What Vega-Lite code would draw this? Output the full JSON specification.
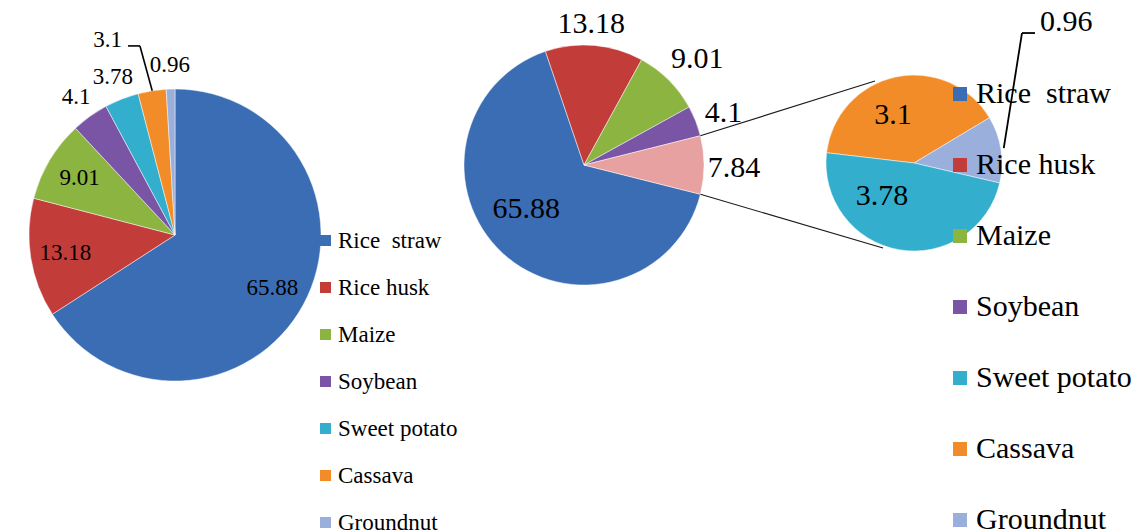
{
  "$schema": "https://vega.github.io/schema/vega-lite/v6.json",
  "padding": 0,
  "spacing": 0,
  "bounds": "flush",
  "background": "white",
  "config": {"view": {"stroke": null}, "font": "'Liberation Serif', 'Times New Roman', 'DejaVu Serif', serif"},
  "datasets": {
    "full": [
      {"name": "Rice straw", "value": 65.88, "k": 1},
      {"name": "Rice husk", "value": 13.18, "k": 2},
      {"name": "Maize", "value": 9.01, "k": 3},
      {"name": "Soybean", "value": 4.1, "k": 4},
      {"name": "Sweet potato", "value": 3.78, "k": 5},
      {"name": "Cassava", "value": 3.1, "k": 6},
      {"name": "Groundnut", "value": 0.96, "k": 7}
    ],
    "main": [
      {"name": "Rice straw", "value": 65.88, "k": 1},
      {"name": "Rice husk", "value": 13.18, "k": 2},
      {"name": "Maize", "value": 9.01, "k": 3},
      {"name": "Soybean", "value": 4.1, "k": 4},
      {"name": "Other", "value": 7.84, "k": 5}
    ],
    "sub": [
      {"name": "Cassava", "value": 3.1, "k": 1},
      {"name": "Groundnut", "value": 0.96, "k": 2},
      {"name": "Sweet potato", "value": 3.78, "k": 3}
    ]
  },
  "resolve": {
    "scale": {"color": "independent", "theta": "independent", "x": "independent", "y": "independent"},
    "legend": {"color": "independent"}
  },
  "hconcat": [
    {
      "width": 350,
      "height": 468,
      "data": {"name": "full"},
      "layer": [
        {
          "mark": {"type": "arc", "radius": 146, "stroke": "#ffffff", "strokeWidth": 0.8, "strokeOpacity": 0.6},
          "encoding": {
            "theta": {"field": "value", "type": "quantitative", "stack": true},
            "order": {"field": "k", "type": "quantitative"},
            "color": {
              "field": "name", "type": "nominal",
              "scale": {
                "domain": ["Rice straw", "Rice husk", "Maize", "Soybean", "Sweet potato", "Cassava", "Groundnut"],
                "range": ["#3B6DB4", "#C23D3A", "#8BB440", "#7B55A5", "#33AECC", "#F28C28", "#9AAFDB"]
              },
              "legend": {
                "title": null, "orient": "none", "legendX": 314, "legendY": 228,
                "symbolType": "square", "symbolSize": 121, "symbolStrokeWidth": 0,
                "labelFont": "'Liberation Serif', 'Times New Roman', 'DejaVu Serif', serif", "labelFontSize": 23, "labelColor": "#000000",
                "labelOffset": 1, "rowPadding": 23, "padding": 0, "labelLimit": 300,
                "labelExpr": "datum.label == 'Rice straw' ? 'Rice\u00a0\u00a0straw' : datum.label"
              }
            }
          }
        },
        {
          "mark": {"type": "text", "radius": 111, "fontSize": 23, "color": "#000000"},
          "encoding": {
            "theta": {"field": "value", "type": "quantitative", "stack": true},
            "order": {"field": "k", "type": "quantitative"},
            "text": {"condition": {"test": "datum.k <= 3", "field": "value", "type": "nominal"}, "value": ""}
          }
        },
        {
          "mark": {"type": "text", "radius": 170, "fontSize": 23, "color": "#000000"},
          "encoding": {
            "theta": {"field": "value", "type": "quantitative", "stack": true},
            "order": {"field": "k", "type": "quantitative"},
            "text": {"condition": {"test": "datum.k == 4 || datum.k == 5 || datum.k == 7", "field": "value", "type": "nominal"}, "value": ""}
          }
        },
        {
          "transform": [{"filter": "datum.name == 'Cassava'"}],
          "mark": {"type": "text", "align": "right", "baseline": "middle", "fontSize": 23, "color": "#000000"},
          "encoding": {
            "x": {"datum": -0.363, "type": "quantitative", "scale": {"domain": [-1.1986, 1.1986], "nice": false, "zero": false}, "axis": null},
            "y": {"datum": 1.336, "type": "quantitative", "scale": {"domain": [-1.6027, 1.6027], "nice": false, "zero": false}, "axis": null},
            "text": {"field": "value", "type": "nominal"}
          }
        },
        {
          "data": {"values": [{}]},
          "mark": {"type": "rule", "color": "#000000", "strokeWidth": 1.6},
          "encoding": {
            "x": {"datum": -0.156, "type": "quantitative"},
            "y": {"datum": 0.988, "type": "quantitative"},
            "x2": {"datum": -0.240},
            "y2": {"datum": 1.295}
          }
        },
        {
          "data": {"values": [{}]},
          "mark": {"type": "rule", "color": "#000000", "strokeWidth": 1.6},
          "encoding": {
            "x": {"datum": -0.240, "type": "quantitative"},
            "y": {"datum": 1.295, "type": "quantitative"},
            "x2": {"datum": -0.322},
            "y2": {"datum": 1.295}
          }
        }
      ]
    },
    {
      "width": 468,
      "height": 328,
      "data": {"name": "main"},
      "layer": [
        {
          "mark": {"type": "arc", "radius": 120, "stroke": "#ffffff", "strokeWidth": 0.8, "strokeOpacity": 0.6},
          "encoding": {
            "theta": {"field": "value", "type": "quantitative", "stack": true, "scale": {"range": [1.8171, 8.10029]}},
            "order": {"field": "k", "type": "quantitative"},
            "color": {
              "field": "name", "type": "nominal",
              "scale": {
                "domain": ["Rice straw", "Rice husk", "Maize", "Soybean", "Other"],
                "range": ["#3B6DB4", "#C23D3A", "#8BB440", "#7B55A5", "#E6A1A0"]
              },
              "legend": null
            }
          }
        },
        {
          "mark": {"type": "text", "radius": 72, "dx": -9, "dy": -9, "fontSize": 30, "color": "#000000"},
          "encoding": {
            "theta": {"field": "value", "type": "quantitative", "stack": true, "scale": {"range": [1.8171, 8.10029]}},
            "order": {"field": "k", "type": "quantitative"},
            "text": {"condition": {"test": "datum.k == 1", "field": "value", "type": "nominal"}, "value": ""}
          }
        },
        {
          "mark": {"type": "text", "radius": 142, "dx": -5, "fontSize": 30, "color": "#000000"},
          "encoding": {
            "theta": {"field": "value", "type": "quantitative", "stack": true, "scale": {"range": [1.8171, 8.10029]}},
            "order": {"field": "k", "type": "quantitative"},
            "text": {"condition": {"test": "datum.k == 2", "field": "value", "type": "nominal"}, "value": ""}
          }
        },
        {
          "mark": {"type": "text", "radius": 152, "dx": 6, "dy": 2, "fontSize": 30, "color": "#000000"},
          "encoding": {
            "theta": {"field": "value", "type": "quantitative", "stack": true, "scale": {"range": [1.8171, 8.10029]}},
            "order": {"field": "k", "type": "quantitative"},
            "text": {"condition": {"test": "datum.k == 3", "field": "value", "type": "nominal"}, "value": ""}
          }
        },
        {
          "mark": {"type": "text", "radius": 150, "dy": 3, "fontSize": 30, "color": "#000000"},
          "encoding": {
            "theta": {"field": "value", "type": "quantitative", "stack": true, "scale": {"range": [1.8171, 8.10029]}},
            "order": {"field": "k", "type": "quantitative"},
            "text": {"condition": {"test": "datum.k >= 4", "field": "value", "type": "nominal"}, "value": ""}
          }
        },
        {
          "data": {"values": [{}]},
          "mark": {"type": "rule", "color": "#1a1a1a", "strokeWidth": 1.1},
          "encoding": {
            "x": {"datum": 0.9698, "type": "quantitative", "scale": {"domain": [-1.95, 1.95], "nice": false, "zero": false}, "axis": null},
            "y": {"datum": 0.2438, "type": "quantitative", "scale": {"domain": [-1.3667, 1.3667], "nice": false, "zero": false}, "axis": null},
            "x2": {"datum": 2.425},
            "y2": {"datum": 0.70}
          }
        },
        {
          "data": {"values": [{}]},
          "mark": {"type": "rule", "color": "#1a1a1a", "strokeWidth": 1.1},
          "encoding": {
            "x": {"datum": 0.9698, "type": "quantitative"},
            "y": {"datum": -0.2438, "type": "quantitative"},
            "x2": {"datum": 2.4917},
            "y2": {"datum": -0.6917}
          }
        }
      ]
    },
    {
      "width": 192,
      "height": 324,
      "data": {"name": "sub"},
      "layer": [
        {
          "mark": {"type": "arc", "radius": 88, "stroke": "#ffffff", "strokeWidth": 0.8, "strokeOpacity": 0.6},
          "encoding": {
            "theta": {"field": "value", "type": "quantitative", "stack": true, "scale": {"range": [4.8293, 11.1125]}},
            "order": {"field": "k", "type": "quantitative"},
            "color": {
              "field": "name", "type": "nominal",
              "scale": {
                "domain": ["Rice straw", "Rice husk", "Maize", "Soybean", "Sweet potato", "Cassava", "Groundnut"],
                "range": ["#3B6DB4", "#C23D3A", "#8BB440", "#7B55A5", "#33AECC", "#F28C28", "#9AAFDB"]
              },
              "legend": {
                "title": null, "orient": "none", "legendX": 127, "legendY": 78,
                "symbolType": "square", "symbolSize": 196, "symbolStrokeWidth": 0,
                "labelFont": "'Liberation Serif', 'Times New Roman', 'DejaVu Serif', serif", "labelFontSize": 30, "labelColor": "#000000",
                "labelOffset": 1, "rowPadding": 41, "padding": 0, "labelLimit": 300,
                "labelExpr": "datum.label == 'Rice straw' ? 'Rice\u00a0\u00a0straw' : datum.label"
              }
            }
          }
        },
        {
          "mark": {"type": "text", "radius": 52, "dx": -10, "dy": 3, "fontSize": 30, "color": "#000000"},
          "encoding": {
            "theta": {"field": "value", "type": "quantitative", "stack": true, "scale": {"range": [4.8293, 11.1125]}},
            "order": {"field": "k", "type": "quantitative"},
            "text": {"condition": {"test": "datum.k == 1", "field": "value", "type": "nominal"}, "value": ""}
          }
        },
        {
          "mark": {"type": "text", "radius": 52, "dx": -23, "dy": -18, "fontSize": 30, "color": "#000000"},
          "encoding": {
            "theta": {"field": "value", "type": "quantitative", "stack": true, "scale": {"range": [4.8293, 11.1125]}},
            "order": {"field": "k", "type": "quantitative"},
            "text": {"condition": {"test": "datum.k == 3", "field": "value", "type": "nominal"}, "value": ""}
          }
        },
        {
          "transform": [{"filter": "datum.name == 'Groundnut'"}],
          "mark": {"type": "text", "align": "left", "baseline": "middle", "fontSize": 30, "color": "#000000"},
          "encoding": {
            "x": {"datum": 1.432, "type": "quantitative", "scale": {"domain": [-1.0909, 1.0909], "nice": false, "zero": false}, "axis": null},
            "y": {"datum": 1.602, "type": "quantitative", "scale": {"domain": [-1.8409, 1.8409], "nice": false, "zero": false}, "axis": null},
            "text": {"field": "value", "type": "nominal"}
          }
        },
        {
          "data": {"values": [{}]},
          "mark": {"type": "rule", "color": "#000000", "strokeWidth": 1.8},
          "encoding": {
            "x": {"datum": 1.02, "type": "quantitative"},
            "y": {"datum": 0.17, "type": "quantitative"},
            "x2": {"datum": 1.227},
            "y2": {"datum": 1.477}
          }
        },
        {
          "data": {"values": [{}]},
          "mark": {"type": "rule", "color": "#000000", "strokeWidth": 1.8},
          "encoding": {
            "x": {"datum": 1.227, "type": "quantitative"},
            "y": {"datum": 1.477, "type": "quantitative"},
            "x2": {"datum": 1.375},
            "y2": {"datum": 1.477}
          }
        }
      ]
    }
  ]
}
